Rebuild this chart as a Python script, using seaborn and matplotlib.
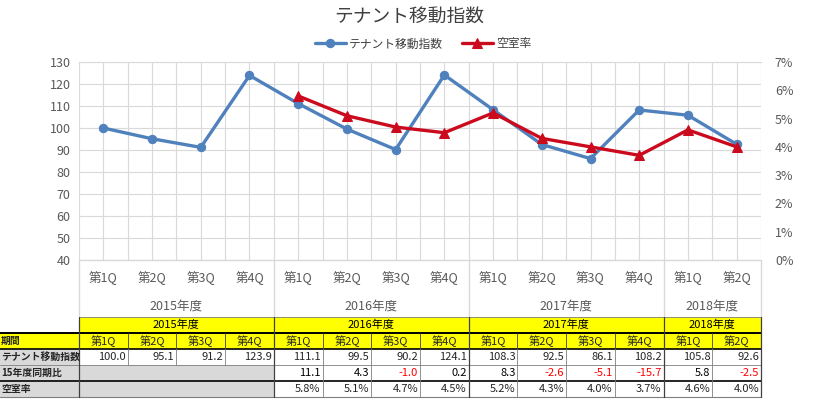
import matplotlib
matplotlib.use("Agg")
import matplotlib.pyplot as plt
import matplotlib.ticker as mticker
import seaborn as sns
import pandas as pd

# ---- data ----
years = ["2015年度", "2016年度", "2017年度", "2018年度"]
quarters_per_year = [4, 4, 4, 2]
quarters = ["第1Q", "第2Q", "第3Q", "第4Q",
            "第1Q", "第2Q", "第3Q", "第4Q",
            "第1Q", "第2Q", "第3Q", "第4Q",
            "第1Q", "第2Q"]
tenant_index = [100.0, 95.1, 91.2, 123.9, 111.1, 99.5, 90.2, 124.1,
                108.3, 92.5, 86.1, 108.2, 105.8, 92.6]
yoy = [None, None, None, None, 11.1, 4.3, -1.0, 0.2,
       8.3, -2.6, -5.1, -15.7, 5.8, -2.5]
vacancy = [None, None, None, None, 5.8, 5.1, 4.7, 4.5,
           5.2, 4.3, 4.0, 3.7, 4.6, 4.0]

title = "テナント移動指数"
label_index = "テナント移動指数"
label_vac = "空室率"
row_labels = ["期間", "テナント移動指数", "15年度同期比", "空室率"]

BLUE = "#4F81BD"
RED = "#CC0A1E"
GRID = "#D9D9D9"
TXT = "#595959"
TFS = 8  # table font size

sns.set_style("white")
plt.rcParams["font.family"] = ["Noto Sans CJK JP", "DejaVu Sans"]

W, H = 814, 399
fig = plt.figure(figsize=(W / 100, H / 100), dpi=100)

# plot area in pixels
X0, X1, Y0, Y1 = 79, 761, 62, 260
n = len(quarters)
cw = (X1 - X0) / n


def fax(x0, y0, x1, y1):
    return [x0 / W, 1 - y1 / H, (x1 - x0) / W, (y1 - y0) / H]


# background layer for table / category labels (pixel coords)
tab = fig.add_axes([0, 0, 1, 1], zorder=0)
tab.set_xlim(0, W)
tab.set_ylim(H, 0)
tab.axis("off")

ax = fig.add_axes(fax(X0, Y0, X1, Y1), zorder=2)
ax.patch.set_alpha(0)

df = pd.DataFrame({"pos": range(n), "idx": tenant_index, "vac": vacancy})

sns.lineplot(data=df, x="pos", y="idx", ax=ax, color=BLUE, lw=2.4,
             marker="o", markersize=6, markeredgecolor=BLUE,
             label=label_index, legend=False)
ax.set_xlim(-0.5, n - 0.5)
ax.set_ylim(40, 130)
ax.set_yticks(range(40, 131, 10))
ax.set_xticks([i * 0.5 - 0.5 for i in range(2 * n + 1)])
ax.set_xticklabels([])
ax.tick_params(axis="x", length=0)
ax.tick_params(axis="y", length=0, labelsize=9, labelcolor=TXT, pad=6)
ax.grid(True, color=GRID, lw=0.8)
ax.set_axisbelow(True)
ax.set_xlabel("")
ax.set_ylabel("")
for s in ax.spines.values():
    s.set_visible(False)
ax.spines["top"].set_visible(True)
ax.spines["top"].set_color(GRID)

ax2 = ax.twinx()
sns.lineplot(data=df.dropna(), x="pos", y="vac", ax=ax2, color=RED, lw=2.4,
             marker="^", markersize=6.5, markeredgecolor=RED,
             label=label_vac, legend=False)
ax2.set_ylim(0, 7)
ax2.yaxis.set_major_locator(mticker.MultipleLocator(1))
ax2.yaxis.set_major_formatter(mticker.FuncFormatter(lambda v, p: f"{v:.0f}%"))
ax2.tick_params(axis="y", length=0, labelsize=9, labelcolor=TXT, pad=10)
ax2.set_ylabel("")
for s in ax2.spines.values():
    s.set_visible(False)

# title + legend
fig.text(0.5 + 2 / W, 1 - 17 / H, title, ha="center", va="center",
         fontsize=13.5, color="#404040")
h1, l1 = ax.get_legend_handles_labels()
h2, l2 = ax2.get_legend_handles_labels()
fig.legend(h1 + h2, l1 + l2, loc="center", bbox_to_anchor=(0.52, 1 - 44 / H),
           ncol=2, frameon=False, fontsize=8.5, handlelength=2.6,
           columnspacing=1.6, handletextpad=0.3, labelcolor="#404040")

# ---- category label area below plot ----
year_edges = [0]
for q in quarters_per_year:
    year_edges.append(year_edges[-1] + q)

tab.plot([X0, X1], [Y1, Y1], color=GRID, lw=1)
for e in year_edges:
    tab.plot([X0 + e * cw] * 2, [Y1, 316], color=GRID, lw=1)
for i, q in enumerate(quarters):
    tab.text(X0 + (i + 0.5) * cw, 278, q, ha="center", va="center",
             fontsize=9, color=TXT)
for y, a, b in zip(years, year_edges[:-1], year_edges[1:]):
    tab.text(X0 + (a + b) / 2 * cw, 306, y, ha="center", va="center",
             fontsize=9, color=TXT)

# ---- data table ----
rows_y = [317, 333, 349, 365, 381, 397]
YEL = "#FFFF00"
GRAY = "#D9D9D9"


def cell(x0, x1, y0, y1, fc):
    tab.add_patch(plt.Rectangle((x0, y0), x1 - x0, y1 - y0, facecolor=fc,
                                edgecolor="none", zorder=1))


# year row
for y, a, b in zip(years, year_edges[:-1], year_edges[1:]):
    cell(X0 + a * cw, X0 + b * cw, rows_y[0], rows_y[1], YEL)
    tab.text(X0 + (a + b) / 2 * cw, (rows_y[0] + rows_y[1]) / 2, y,
             ha="center", va="center", fontsize=TFS, color="#000000", zorder=3)

# label column
cell(0, X0, rows_y[1], rows_y[2], YEL)
for r in range(2, 5):
    cell(0, X0, rows_y[r], rows_y[r + 1], GRAY)
for r, lab in enumerate(row_labels):
    tab.text(1, (rows_y[r + 1] + rows_y[r + 2]) / 2, lab, ha="left",
             va="center", fontsize=7.1, fontweight="bold", zorder=3)

# quarter header row
cell(X0, X1, rows_y[1], rows_y[2], YEL)
for i, q in enumerate(quarters):
    tab.text(X0 + (i + 0.5) * cw, (rows_y[1] + rows_y[2]) / 2, q,
             ha="center", va="center", fontsize=TFS, zorder=3)

# gray blanks for 2015 in comparison rows
cell(X0, X0 + 4 * cw, rows_y[3], rows_y[5], GRAY)

ymid = [(rows_y[r] + rows_y[r + 1]) / 2 for r in range(6 - 1)]
for i in range(n):
    xr = X0 + (i + 1) * cw - 2
    tab.text(xr, ymid[2], f"{tenant_index[i]:.1f}", ha="right", va="center",
             fontsize=TFS, zorder=3)
    if yoy[i] is not None:
        tab.text(xr, ymid[3], f"{yoy[i]:.1f}", ha="right", va="center",
                 fontsize=TFS, zorder=3,
                 color="#FF0000" if yoy[i] < 0 else "#000000")
    if vacancy[i] is not None:
        tab.text(xr, ymid[4], f"{vacancy[i]:.1f}%", ha="right", va="center",
                 fontsize=TFS, zorder=3)

# borders
LC = "#7F7F7F"
tab.plot([X0, X1], [rows_y[0], rows_y[0]], color=LC, lw=0.6, zorder=2)
for r, lw, c in [(1, 1.4, "#000000"), (2, 1.2, "#000000"), (3, 0.6, LC),
                 (4, 1.2, "#000000"), (5, 0.8, LC)]:
    tab.plot([0, X1], [rows_y[r], rows_y[r]], color=c, lw=lw, zorder=2)
for e in year_edges:
    tab.plot([X0 + e * cw] * 2, [rows_y[0], rows_y[5]], color="#404040",
             lw=0.9, zorder=2)
for i in range(n):
    if i in year_edges:
        continue
    tab.plot([X0 + i * cw] * 2, [rows_y[1], rows_y[2]], color="#404040",
             lw=0.6, zorder=2)
    tab.plot([X0 + i * cw] * 2, [rows_y[2], rows_y[3]], color=LC,
             lw=0.6, zorder=2)
    if i < 4:
        continue
    tab.plot([X0 + i * cw] * 2, [rows_y[3], rows_y[5]], color=LC,
             lw=0.6, zorder=2)

fig.savefig("out.png", dpi=100)
